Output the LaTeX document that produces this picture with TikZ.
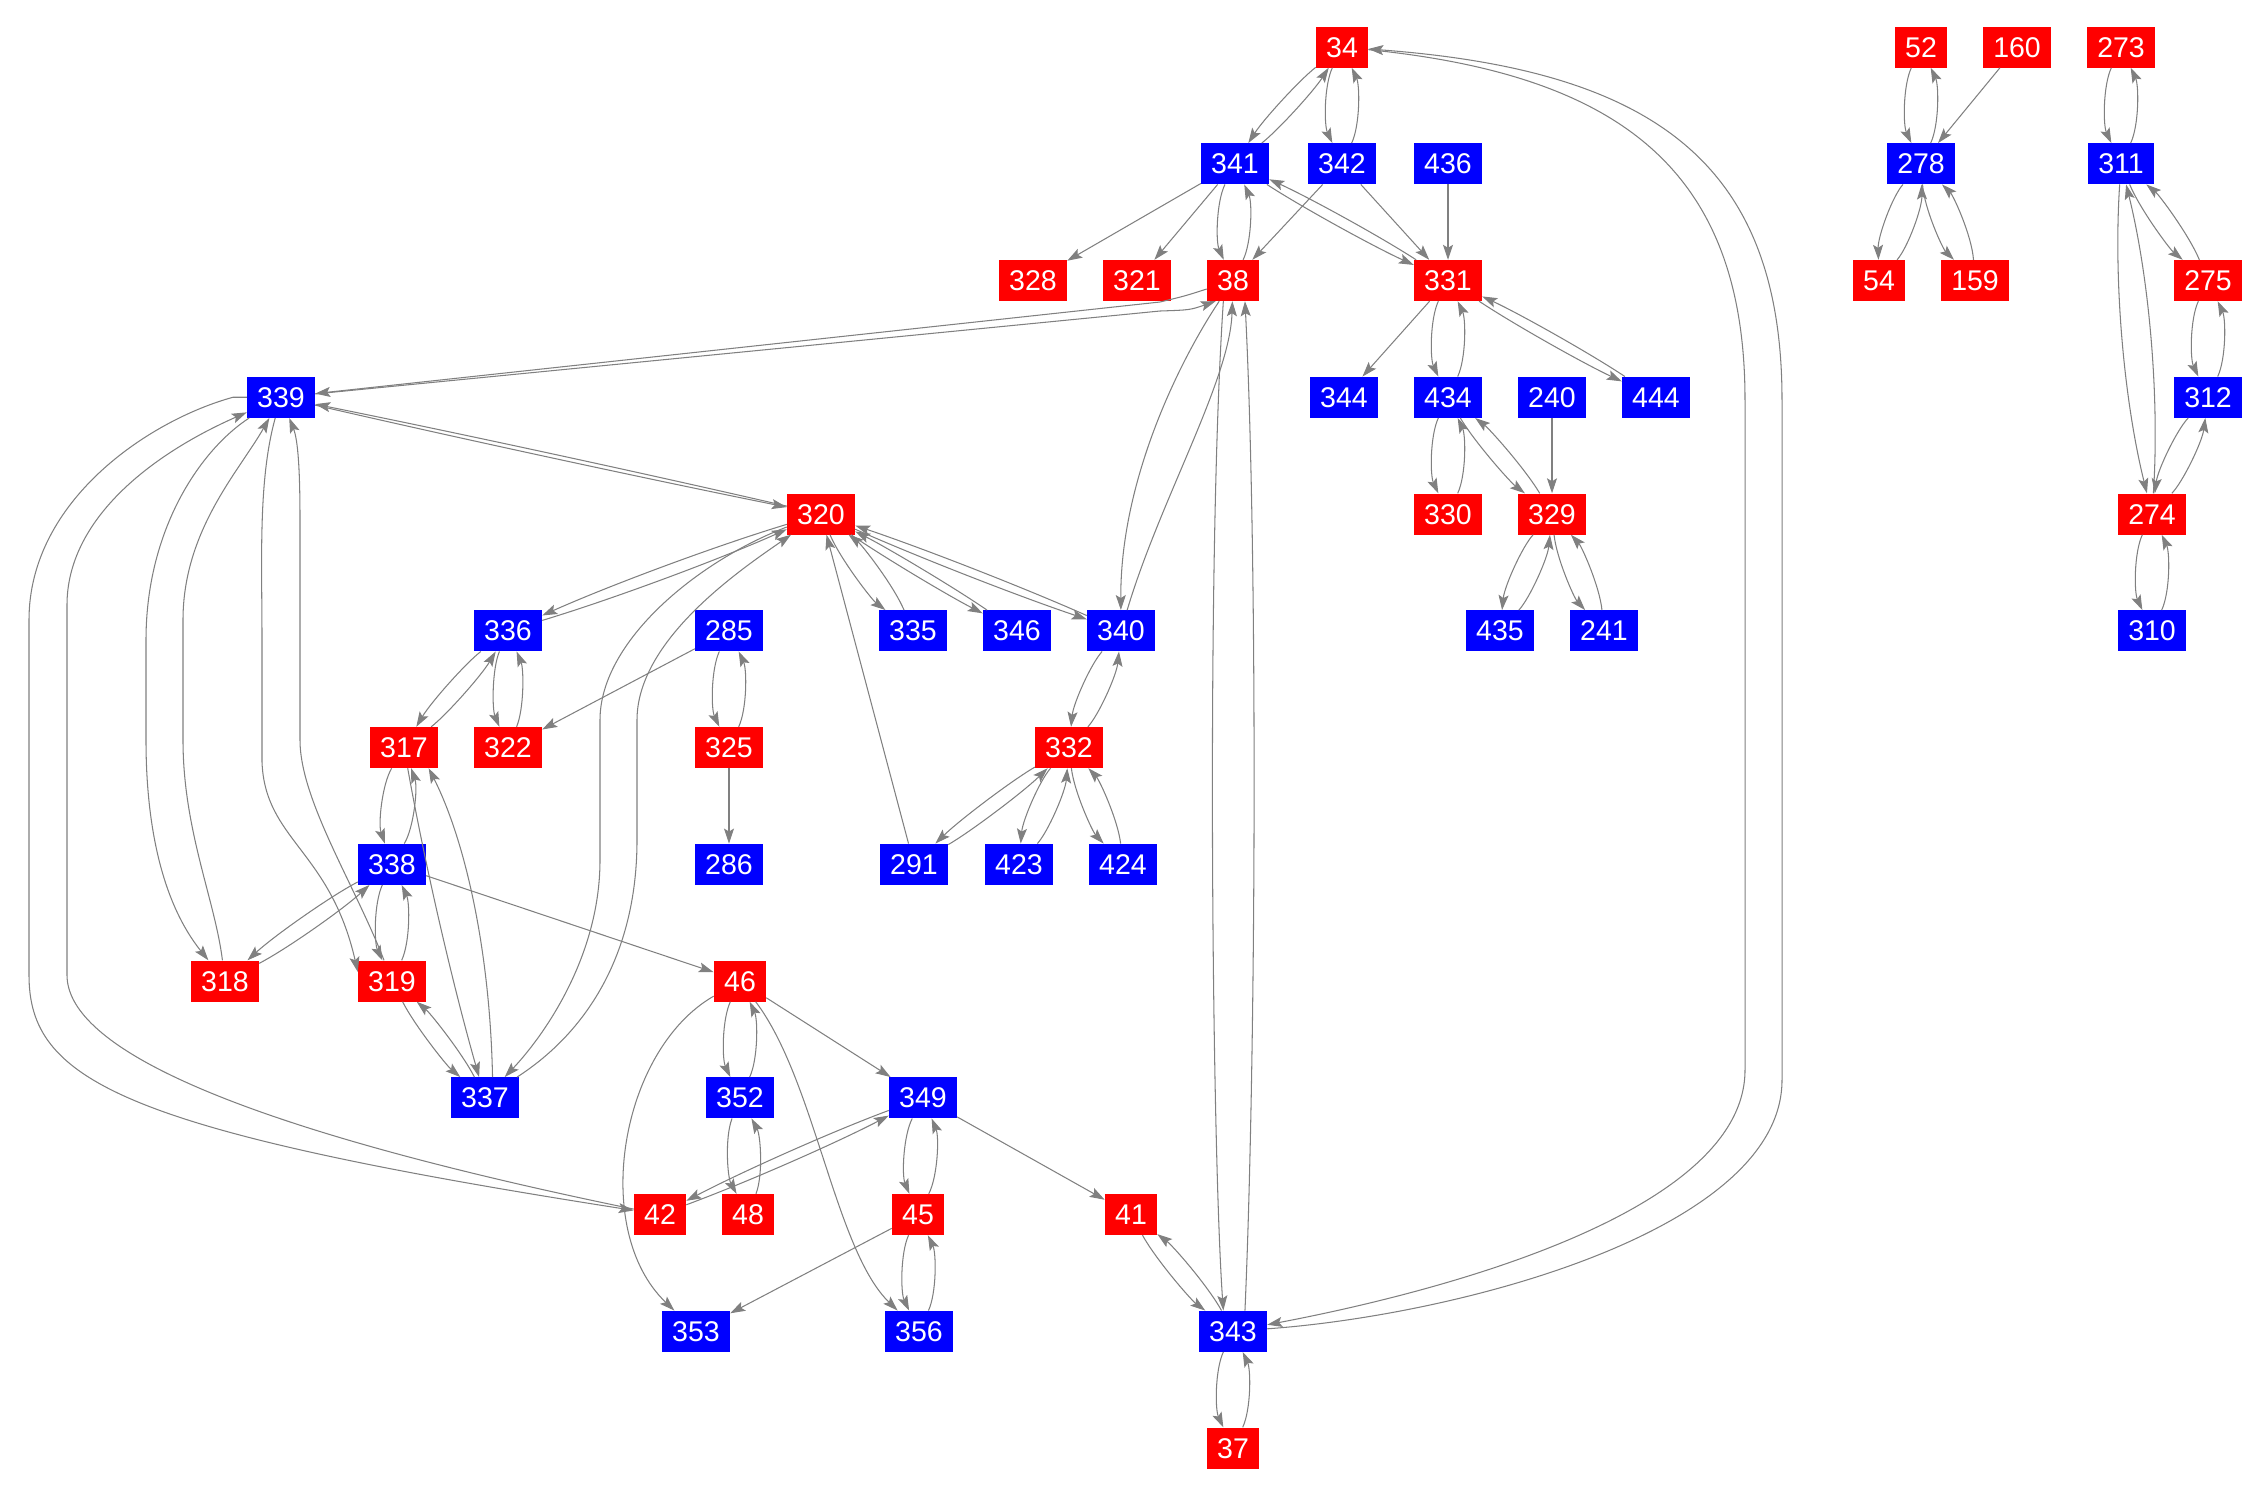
\documentclass[tikz,border=0pt]{standalone}
\usepackage{fontspec}
\setmainfont{Liberation Sans}
\usetikzlibrary{arrows.meta,calc}
\definecolor{nred}{RGB}{255,0,0}
\definecolor{nblue}{RGB}{0,0,255}
\definecolor{egray}{RGB}{128,128,128}
\newcommand\pe[3][18]{\draw[edge] (#2) .. controls ($(#2)!0.33!(#3)!#1pt!-90:(#3)$) and ($(#2)!0.67!(#3)!#1pt!-90:(#3)$) .. (#3);}
\begin{document}
\begin{tikzpicture}[x=1pt,y=-1pt,
  nd/.style={rectangle, inner xsep=10.25pt, inner ysep=10.3pt, text height=20.4pt, text depth=0pt, text=white, font=\fontsize{28.5}{30}\selectfont},
  rn/.style={nd, fill=nred},
  bn/.style={nd, fill=nblue},
  edge/.style={draw=egray, line width=1.05pt, -{Stealth[length=15pt,width=10pt,inset=3pt]}}]
\useasboundingbox (0,0) rectangle (2250,1492);
% row 0
\node[rn] (n34) at (1342,47) {34};
\node[rn] (n52) at (1921,47) {52};
\node[rn] (n160) at (2017,47) {160};
\node[rn] (n273) at (2121,47) {273};
% row 1
\node[bn] (n341) at (1235,163.75) {341};
\node[bn] (n342) at (1342,163.75) {342};
\node[bn] (n436) at (1448,163.75) {436};
\node[bn] (n278) at (1921,163.75) {278};
\node[bn] (n311) at (2121,163.75) {311};
% row 2
\node[rn] (n328) at (1033,280.5) {328};
\node[rn] (n321) at (1137,280.5) {321};
\node[rn] (n38) at (1233,280.5) {38};
\node[rn] (n331) at (1448,280.5) {331};
\node[rn] (n54) at (1879,280.5) {54};
\node[rn] (n159) at (1975,280.5) {159};
\node[rn] (n275) at (2208,280.5) {275};
% row 3
\node[bn] (n339) at (281,397.25) {339};
\node[bn] (n344) at (1344,397.25) {344};
\node[bn] (n434) at (1448,397.25) {434};
\node[bn] (n240) at (1552,397.25) {240};
\node[bn] (n444) at (1656,397.25) {444};
\node[bn] (n312) at (2208,397.25) {312};
% row 4
\node[rn] (n320) at (821,514) {320};
\node[rn] (n330) at (1448,514) {330};
\node[rn] (n329) at (1552,514) {329};
\node[rn] (n274) at (2152,514) {274};
% row 5
\node[bn] (n336) at (508,630.75) {336};
\node[bn] (n285) at (729,630.75) {285};
\node[bn] (n335) at (913,630.75) {335};
\node[bn] (n346) at (1017,630.75) {346};
\node[bn] (n340) at (1121,630.75) {340};
\node[bn] (n435) at (1500,630.75) {435};
\node[bn] (n241) at (1604,630.75) {241};
\node[bn] (n310) at (2152,630.75) {310};
% row 6
\node[rn] (n317) at (404,747.5) {317};
\node[rn] (n322) at (508,747.5) {322};
\node[rn] (n325) at (729,747.5) {325};
\node[rn] (n332) at (1069,747.5) {332};
% row 7
\node[bn] (n338) at (392,864.25) {338};
\node[bn] (n286) at (729,864.25) {286};
\node[bn] (n291) at (914,864.25) {291};
\node[bn] (n423) at (1019,864.25) {423};
\node[bn] (n424) at (1123,864.25) {424};
% row 8
\node[rn] (n318) at (225,981) {318};
\node[rn] (n319) at (392,981) {319};
\node[rn] (n46) at (740,981) {46};
% row 9
\node[bn] (n337) at (485,1097.75) {337};
\node[bn] (n352) at (740,1097.75) {352};
\node[bn] (n349) at (923,1097.75) {349};
% row 10
\node[rn] (n42) at (660,1214.5) {42};
\node[rn] (n48) at (748,1214.5) {48};
\node[rn] (n45) at (918,1214.5) {45};
\node[rn] (n41) at (1131,1214.5) {41};
% row 11
\node[bn] (n353) at (696,1331.25) {353};
\node[bn] (n356) at (919,1331.25) {356};
\node[bn] (n343) at (1233,1331.25) {343};
% row 12
\node[rn] (n37) at (1233,1448) {37};

% single edges
\draw[edge] (n341) -- (n328);
\draw[edge] (n341) -- (n321);
\draw[edge] (n342) -- (n38);
\draw[edge] (n342) -- (n331);
\draw[edge] (n436) -- (n331);
\draw[edge] (n331) -- (n344);
\draw[edge] (n240) -- (n329);
\draw[edge] (n160) -- (n278);
\draw[edge] (n285) -- (n322);
\draw[edge] (n325) -- (n286);
\draw[edge] (n291) -- (n320);
\draw[edge] (n338) -- (n46);
\draw[edge] (n46) -- (n349);
\draw[edge] (n349) -- (n41);
\draw[edge] (n45) -- (n353);
\draw[edge] (n46) .. controls (620,1050) and (590,1230) .. (n353);
\draw[edge] (n46) .. controls (815,1080) and (835,1250) .. (n356);

% reciprocal pairs
\pe[9]{n34}{n341} \pe[9]{n341}{n34}
\pe{n34}{n342} \pe{n342}{n34}
\pe{n341}{n38} \pe{n38}{n341}
\pe[6]{n341}{n331} \pe[6]{n331}{n341}
\pe{n331}{n434} \pe{n434}{n331}
\pe[6]{n331}{n444} \pe[6]{n444}{n331}
\pe{n434}{n330} \pe{n330}{n434}
\pe[10]{n434}{n329} \pe[10]{n329}{n434}
\pe[14]{n329}{n435} \pe[14]{n435}{n329}
\pe[14]{n329}{n241} \pe[14]{n241}{n329}
\pe{n52}{n278} \pe{n278}{n52}
\pe[16]{n278}{n54} \pe[16]{n54}{n278}
\pe[16]{n278}{n159} \pe[16]{n159}{n278}
\pe{n273}{n311} \pe{n311}{n273}
\pe[12]{n311}{n275} \pe[12]{n275}{n311}
\pe{n311}{n274} \pe{n274}{n311}
\pe{n275}{n312} \pe{n312}{n275}
\pe[14]{n312}{n274} \pe[14]{n274}{n312}
\pe{n274}{n310} \pe{n310}{n274}
\pe[2.5]{n339}{n320} \pe[2.5]{n320}{n339}
\pe[7]{n320}{n336} \pe[7]{n336}{n320}
\pe[13]{n320}{n335} \pe[13]{n335}{n320}
\pe[5]{n320}{n346} \pe[5]{n346}{n320}
\pe[5]{n320}{n340} \pe[5]{n340}{n320}
\pe[10]{n336}{n317} \pe[10]{n317}{n336}
\pe[16]{n336}{n322} \pe[16]{n322}{n336}
\pe{n285}{n325} \pe{n325}{n285}
\pe{n317}{n338} \pe{n338}{n317}
\pe[9]{n338}{n318} \pe[9]{n318}{n338}
\pe{n338}{n319} \pe{n319}{n338}
\pe[10]{n319}{n337} \pe[10]{n337}{n319}
\pe[14]{n340}{n332} \pe[14]{n332}{n340}
\pe[8]{n332}{n291} \pe[8]{n291}{n332}
\pe[14]{n332}{n423} \pe[14]{n423}{n332}
\pe[14]{n332}{n424} \pe[14]{n424}{n332}
\pe{n46}{n352} \pe{n352}{n46}
\pe{n352}{n48} \pe{n48}{n352}
\pe[6]{n349}{n42} \pe[6]{n42}{n349}
\pe{n349}{n45} \pe{n45}{n349}
\pe{n45}{n356} \pe{n356}{n45}
\pe[11]{n41}{n343} \pe[11]{n343}{n41}
\pe{n343}{n37} \pe{n37}{n343}
\pe[6]{n317}{n337}
\draw[edge] (n337.70) .. controls (490,950) and (465,840) .. (n317.-40);

% long routed edges
\draw[edge] (n34) .. controls (1620,75) and (1745,170) .. (1745,400) -- (1745,1070) .. controls (1745,1210) and (1450,1290) .. (n343);
\draw[edge] (n343) .. controls (1460,1315) and (1782,1230) .. (1782,1080) -- (1782,400) .. controls (1782,160) and (1650,70) .. (n34);
\draw[edge] (n339.west) -- (233,397.25) .. controls (150,420) and (29,500) .. (29,620) -- (29,975) .. controls (29,1080) and (120,1130) .. (n42);
\draw[edge] (n42) .. controls (200,1120) and (67,1040) .. (67,975) -- (67,605) .. controls (67,520) and (150,455) .. (n339);
\draw[edge] (n320) .. controls (700,560) and (600,640) .. (600,720) -- (600,860) .. controls (600,960) and (540,1040) .. (n337);
\draw[edge] (n337) .. controls (590,1030) and (637,950) .. (637,840) -- (637,720) .. controls (637,640) and (740,570) .. (n320);
\draw[edge] (n339) .. controls (200,450) and (146,530) .. (146,640) -- (146,740) .. controls (146,820) and (160,900) .. (n318);
\draw[edge] (n318) .. controls (215,900) and (183,830) .. (183,740) -- (183,620) .. controls (183,530) and (240,470) .. (n339);
\draw[edge] (n339) .. controls (258,480) and (262,560) .. (262,640) -- (262,762) .. controls (265,840) and (330,850) .. (n319.165);
\draw[edge] (n319) .. controls (355,885) and (300,800) .. (300,740) -- (300,520) .. controls (300,470) and (298,440) .. (n339);
\draw[edge] (n38) .. controls (1185,296) .. (1160,302) -- (n339);
\draw[edge] (n339) -- (1160,311) .. controls (1190,310) .. (n38.-130);
\draw[edge] (n38) .. controls (1180,360) and (1120,480) .. (n340);
\draw[edge] (n340) .. controls (1160,500) and (1230,380) .. (n38);
\draw[edge] (n38.-115) .. controls (1206,560) and (1212,1150) .. (n343.115);
\draw[edge] (n343.60) .. controls (1256,1060) and (1258,560) .. (n38.-60);
\end{tikzpicture}
\end{document}
